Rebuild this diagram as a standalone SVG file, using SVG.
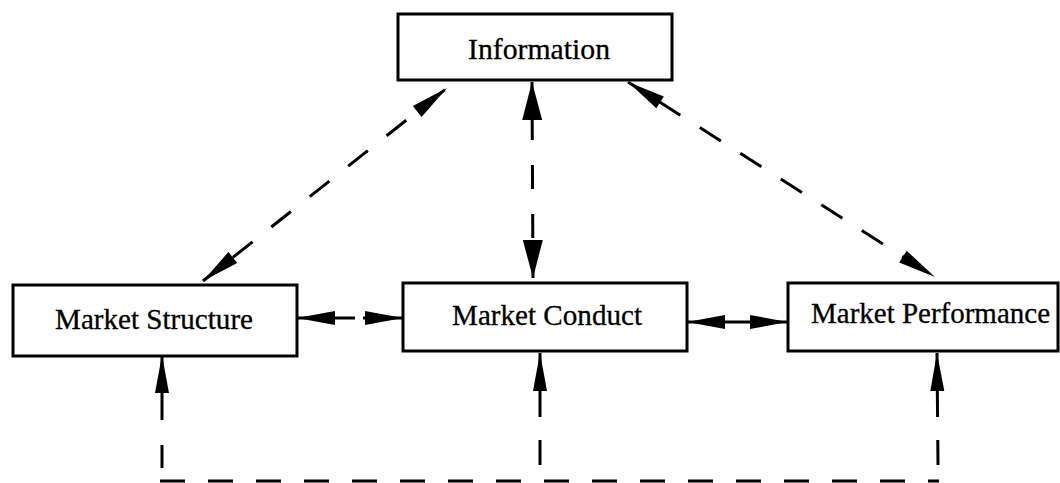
<svg xmlns="http://www.w3.org/2000/svg" width="1060" height="483" viewBox="0 0 1060 483">
<style>
.box{fill:#fff;stroke:#000;stroke-width:3}
.lbl{font-family:"Liberation Serif","Times New Roman",serif;font-size:29px;fill:#000;stroke:#000;stroke-width:0.3;text-anchor:start}
.con{fill:none;stroke:#000;stroke-width:3;stroke-linecap:butt}
</style>
<defs>
<marker id="ah" markerUnits="userSpaceOnUse" markerWidth="38" markerHeight="14" refX="38" refY="7" orient="auto-start-reverse" overflow="visible">
<path d="M0,0 L38,7 L0,14 z" fill="#000"/>
</marker>
<marker id="ahw" markerUnits="userSpaceOnUse" markerWidth="38" markerHeight="20" refX="38" refY="10" orient="auto-start-reverse" overflow="visible">
<path d="M0,0 L38,10 L0,20 z" fill="#000"/>
</marker>
</defs>
<g id="connectors">
<path class="con" d="M447,88 L203,281" stroke-dasharray="25 24" stroke-dashoffset="46" marker-start="url(#ah)" marker-end="url(#ah)"/>
<path class="con" d="M532,82 L533,278" stroke-dasharray="24 25" stroke-dashoffset="15" marker-start="url(#ahw)" marker-end="url(#ahw)"/>
<path class="con" d="M628,82 L935,277" stroke-dasharray="25 23" stroke-dashoffset="11" marker-start="url(#ah)" marker-end="url(#ah)"/>
<path class="con" d="M297,318 L403,318" stroke-dasharray="58 8 200" marker-start="url(#ah)" marker-end="url(#ah)"/>
<path class="con" d="M687,322 L788,322" marker-start="url(#ah)" marker-end="url(#ah)"/>
<path class="con" d="M162,355 L162,468" stroke-dasharray="65 25 23 100" marker-start="url(#ah)"/>
<path class="con" d="M540,353 L540,465" stroke-dasharray="64 23 25 100" marker-start="url(#ah)"/>
<path class="con" d="M937,353 L938,465" stroke-dasharray="64 23 25 100" marker-start="url(#ah)"/>
<path class="con" d="M160,481 L939,481" stroke-dasharray="25 23"/>
</g>
<g id="information">
<rect class="box" x="398" y="14" width="274" height="66"/>
<text class="lbl" x="468" y="59" textLength="142" lengthAdjust="spacingAndGlyphs">Information</text>
</g>
<g id="market-structure">
<rect class="box" x="13" y="285" width="284" height="71"/>
<text class="lbl" x="55" y="329" textLength="198" lengthAdjust="spacingAndGlyphs">Market Structure</text>
</g>
<g id="market-conduct">
<rect class="box" x="403" y="283" width="284" height="68"/>
<text class="lbl" x="452" y="325" textLength="190" lengthAdjust="spacingAndGlyphs">Market Conduct</text>
</g>
<g id="market-performance">
<rect class="box" x="788" y="283" width="270" height="68"/>
<text class="lbl" x="811" y="323" textLength="239" lengthAdjust="spacingAndGlyphs">Market Performance</text>
</g>
</svg>
